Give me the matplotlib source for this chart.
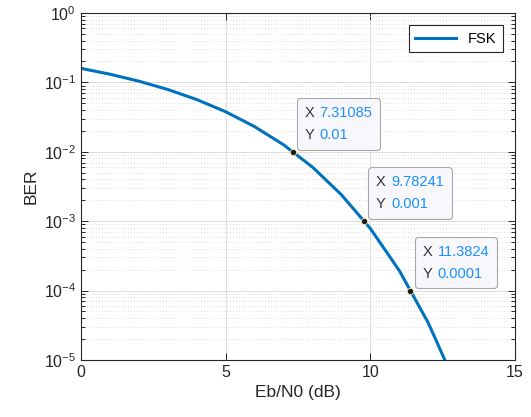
import matplotlib
matplotlib.use("Agg")
import matplotlib.pyplot as plt
from matplotlib.offsetbox import TextArea, HPacker, VPacker, AnnotationBbox

plt.rcParams['font.family'] = ['Liberation Sans', 'DejaVu Sans']

# FSK bit error rate
ebn0_db = [0, 1, 2, 3, 4, 5, 6, 7, 8, 9, 10, 11, 12, 13]
ber = [0.159, 0.131, 0.104, 0.0789, 0.0565, 0.0377, 0.0230, 0.0126,
       0.00601, 0.00240, 0.000783, 0.000194, 3.43e-5, 4.0e-6]

# data tips
tip_x = [7.31085, 9.78241, 11.3824]
tip_y = [0.01, 0.001, 0.0001]
tip_xlab = ['7.31085', '9.78241', '11.3824']
tip_ylab = ['0.01', '0.001', '0.0001']

fig = plt.figure(figsize=(5.31, 4.17), dpi=100)
ax = fig.add_axes([0.1525, 0.1367, 0.8175, 0.8323])

ax.semilogy(ebn0_db, ber, color='#0072BD', lw=2.2, label='FSK')
ax.set_xlim(0, 15)
ax.set_ylim(1e-5, 1)
ax.set_xticks([0, 5, 10, 15])

ax.grid(True, which='major', color='#dcdcdc', lw=0.7, ls='-')
ax.grid(True, which='minor', axis='y', color='#d0d0d0', lw=0.6, ls=(0, (1, 2.5)))
ax.set_axisbelow(True)
ax.tick_params(which='both', direction='in', top=True, right=True,
               labelsize=11.5, colors='#262626', width=0.7)
ax.tick_params(which='major', length=5)
ax.tick_params(which='minor', length=3)
for s in ax.spines.values():
    s.set_color('#262626')
    s.set_linewidth(0.8)

ax.set_xlabel('Eb/N0 (dB)', fontsize=12.5, color='#262626')
ax.set_ylabel('BER', fontsize=12.5, color='#262626')

leg = ax.legend(loc='upper right', fontsize=10.5, fancybox=False,
                edgecolor='#262626', framealpha=1, borderpad=0.45,
                handlelength=2.8, borderaxespad=0,
                bbox_to_anchor=(0.972, 0.965))
leg.get_frame().set_linewidth(0.8)

ax.plot(tip_x, tip_y, 'o', ms=4.5, mfc='#1a1a1a', mec='#f5f0b0', mew=0.6, zorder=7)

for x, y, xl, yl in zip(tip_x, tip_y, tip_xlab, tip_ylab):
    row1 = HPacker(children=[TextArea('X', textprops=dict(color='#333333', fontsize=10.5)),
                             TextArea(xl, textprops=dict(color='#1a90ff', fontsize=10.5))],
                   sep=4, align='baseline')
    row2 = HPacker(children=[TextArea('Y', textprops=dict(color='#333333', fontsize=10.5)),
                             TextArea(yl, textprops=dict(color='#1a90ff', fontsize=10.5))],
                   sep=4, align='baseline')
    box = VPacker(children=[row1, row2], sep=6, align='left', pad=0)
    ab = AnnotationBbox(box, (x, y), xycoords='data', xybox=(8.5, 7.0),
                        boxcoords='offset points', box_alignment=(0, 0),
                        frameon=True,
                        bboxprops=dict(boxstyle='round,pad=0.55,rounding_size=0.25',
                                       fc='#f8f8fc', ec='#a8a8a8', lw=0.8))
    ab.set_zorder(6)
    ax.add_artist(ab)

fig.savefig('out.png', dpi=100)
